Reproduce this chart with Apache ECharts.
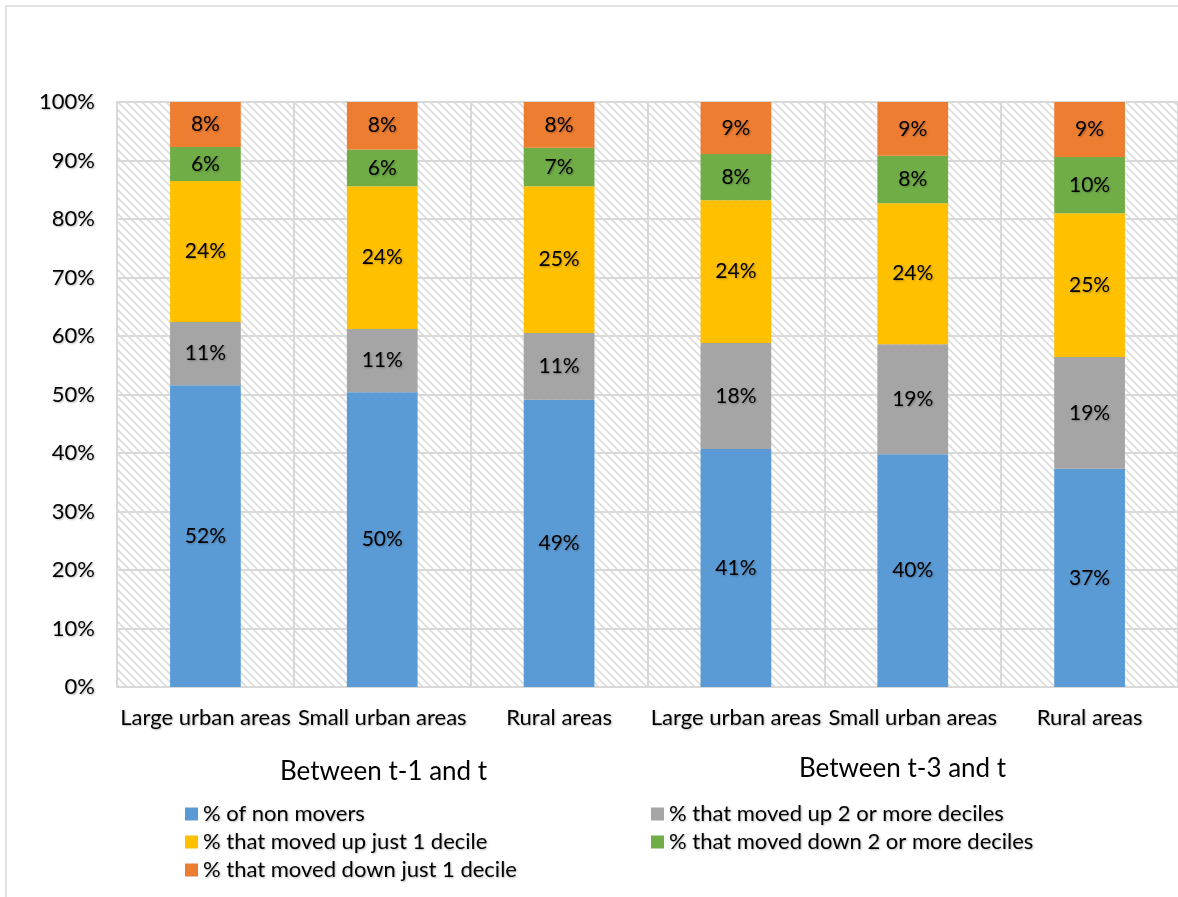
<!DOCTYPE html>
<html>
<head>
<meta charset="utf-8">
<style>
  html, body { margin: 0; padding: 0; background: #fff; }
  #chart { width: 1178px; height: 897px; }
</style>
<script src="https://cdn.jsdelivr.net/npm/echarts@6/dist/echarts.min.js"></script>
</head>
<body>
<div id="chart"></div>
<script>
// Area types, shown once per time window
const categories = ['Large urban areas', 'Small urban areas', 'Rural areas',
                    'Large urban areas', 'Small urban areas', 'Rural areas'];
const groupTitles = ['Between t-1 and t', 'Between t-3 and t'];

// Shares of people (%) by mobility outcome, stacked bottom to top
const nonMovers   = [51.6, 50.4, 49.1, 40.7, 39.8, 37.3];
const upTwoPlus   = [10.8, 10.8, 11.4, 18.1, 18.8, 19.1];
const upOne       = [24.1, 24.4, 25.1, 24.4, 24.1, 24.6];
const downTwoPlus = [5.8, 6.3, 6.6, 7.9, 8.1, 9.6];
const downOne     = [7.7, 8.1, 7.8, 8.9, 9.2, 9.4];

const seriesNames = ['% of non movers', '% that moved up 2 or more deciles',
  '% that moved up just 1 decile', '% that moved down 2 or more deciles',
  '% that moved down just 1 decile'];
const seriesValues = [nonMovers, upTwoPlus, upOne, downTwoPlus, downOne];
const seriesColors = ['#5B9BD5', '#A5A5A5', '#FFC000', '#70AD47', '#ED7D31'];

const yTicks = { min: 0, max: 100, interval: 10 };

const FONT = 'Lato, "Open Sans", sans-serif';
const shadow = { textShadowColor: 'rgba(0,0,0,0.28)', textShadowBlur: 2, textShadowOffsetX: 1, textShadowOffsetY: 1 };
const gShadow = { shadowColor: 'rgba(0,0,0,0.28)', shadowBlur: 2, shadowOffsetX: 1, shadowOffsetY: 1 };

// Diagonal hatch used as the plot area fill
function hatchPattern() {
  const c = document.createElement('canvas');
  c.width = 8; c.height = 8;
  const ctx = c.getContext('2d');
  ctx.fillStyle = '#ffffff';
  ctx.fillRect(0, 0, 8, 8);
  ctx.strokeStyle = '#dcdcdc';
  ctx.lineWidth = 1.6;
  ctx.beginPath();
  ctx.moveTo(-1, -1); ctx.lineTo(9, 9);
  ctx.moveTo(-1, 7); ctx.lineTo(1, 9);
  ctx.moveTo(7, -1); ctx.lineTo(9, 1);
  ctx.stroke();
  return { image: c, repeat: 'repeat' };
}

const chart = echarts.init(document.getElementById('chart'));

const legendText = Object.assign({ fontFamily: FONT, fontSize: 22, color: '#000' }, shadow);

chart.setOption({
  animation: false,
  backgroundColor: '#fff',
  grid: {
    left: 117, right: -7, top: 102, bottom: 210,
    show: true,
    backgroundColor: hatchPattern(),
    borderColor: '#d9d9d9',
    borderWidth: 2
  },
  xAxis: {
    type: 'category',
    data: categories,
    axisLine: { show: true, lineStyle: { color: '#d9d9d9', width: 2 } },
    axisTick: { show: false },
    splitLine: { show: true, interval: 0, lineStyle: { color: '#d9d9d9', width: 2 } },
    axisLabel: Object.assign({ interval: 0, margin: 20, fontFamily: FONT, fontSize: 22, color: '#000' }, shadow)
  },
  yAxis: {
    type: 'value',
    min: yTicks.min, max: yTicks.max, interval: yTicks.interval,
    axisLine: { show: true, lineStyle: { color: '#d9d9d9', width: 2 } },
    axisTick: { show: false },
    splitLine: { show: true, lineStyle: { color: '#d9d9d9', width: 2 } },
    axisLabel: Object.assign({ formatter: '{value}%', margin: 22, fontFamily: FONT, fontSize: 22, color: '#000' }, shadow)
  },
  legend: [
    {
      orient: 'vertical', left: 180, top: 798, itemGap: 6,
      itemWidth: 13, itemHeight: 13, icon: 'rect',
      data: [seriesNames[0], seriesNames[2], seriesNames[4]],
      textStyle: legendText
    },
    {
      orient: 'vertical', left: 646, top: 798, itemGap: 6,
      itemWidth: 13, itemHeight: 13, icon: 'rect',
      data: [seriesNames[1], seriesNames[3]],
      textStyle: legendText
    }
  ],
  graphic: [
    {
      type: 'rect', silent: true, z: -1,
      shape: { x: 6, y: 6, width: 1400, height: 1200 },
      style: { fill: 'none', stroke: '#d9d9d9', lineWidth: 1.5 }
    },
    {
      type: 'text', left: 280, top: 759,
      style: Object.assign({ text: groupTitles[0], font: '26px ' + FONT, fill: '#000' }, gShadow)
    },
    {
      type: 'text', left: 799, top: 756,
      style: Object.assign({ text: groupTitles[1], font: '26px ' + FONT, fill: '#000' }, gShadow)
    }
  ],
  series: seriesNames.map((name, i) => ({
    name: name,
    type: 'bar',
    stack: 'share',
    barWidth: '40%',
    data: seriesValues[i],
    itemStyle: { color: seriesColors[i] },
    label: Object.assign({
      show: true,
      position: 'inside',
      formatter: p => Math.round(p.value) + '%',
      fontFamily: FONT, fontSize: 21, color: '#000'
    }, shadow)
  }))
});
</script>
</body>
</html>
